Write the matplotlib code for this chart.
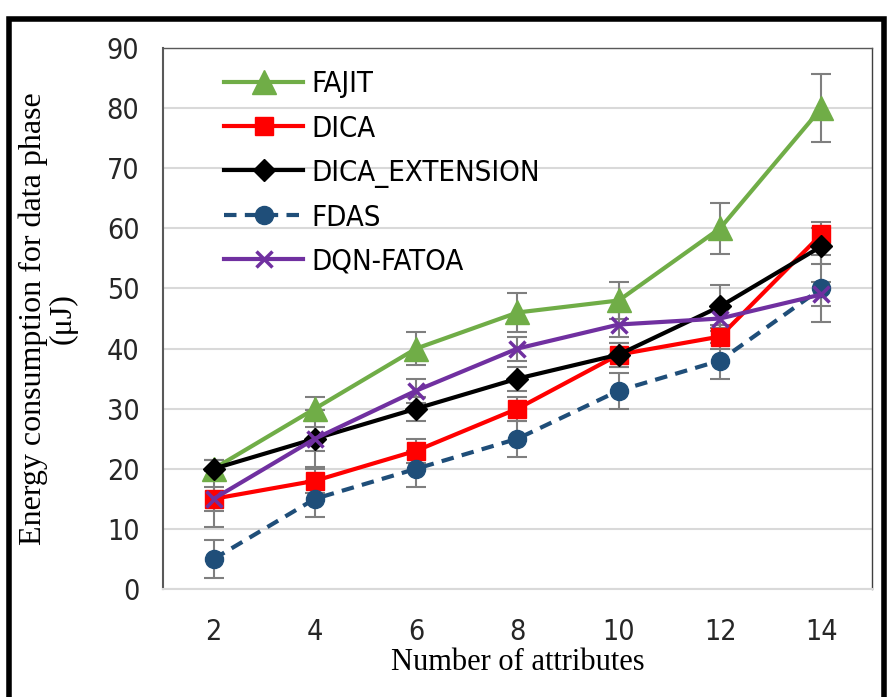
import matplotlib
matplotlib.use("Agg")
import matplotlib.pyplot as plt
from matplotlib.patches import Rectangle
from matplotlib import font_manager
import numpy as np

categories = ["2", "4", "6", "8", "10", "12", "14"]
series_names = ["FAJIT", "DICA", "DICA_EXTENSION", "FDAS", "DQN-FATOA"]
fajit = [20, 30, 40, 46, 48, 60, 80]
dica = [15, 18, 23, 30, 39, 42, 59]
dica_ext = [20, 25, 30, 35, 39, 47, 57]
fdas = [5, 15, 20, 25, 33, 38, 50]
dqn = [15, 25, 33, 40, 44, 45, 49]

fajit_err = [1.5, 2.0, 2.8, 3.3, 3.1, 4.2, 5.7]
dica_err = [4.7, 2.0, 2.0, 2.0, 2.0, 2.0, 2.0]
dica_ext_err = [1.5, 4.7, 2.0, 2.0, 2.0, 3.5, 3.0]
fdas_err = [3.1, 3.0, 3.0, 3.0, 3.0, 3.0, 5.5]
dqn_err = [2.0, 2.0, 2.0, 2.0, 2.0, 2.0, 2.0]

W, H = 889, 697
fig = plt.figure(figsize=(W / 100, H / 100), dpi=100)
ax = fig.add_axes([163 / W, 1 - 589 / H, (872 - 163) / W, (589 - 48) / H])

serif = ['Liberation Serif', 'DejaVu Serif']
tick_fp = font_manager.FontProperties(family=['DejaVu Sans'], stretch='condensed', size=20.5)
leg_fp = font_manager.FontProperties(family=['DejaVu Sans'], stretch='condensed', size=21)

x = np.arange(len(categories))
styles = [
    (fajit, fajit_err, dict(color="#70AD47", marker="^", markersize=17, linestyle="-", linewidth=3)),
    (dica, dica_err, dict(color="#FF0000", marker="s", markersize=13, linestyle="-", linewidth=3)),
    (dica_ext, dica_ext_err, dict(color="#000000", marker="D", markersize=11, linestyle="-", linewidth=3)),
    (fdas, fdas_err, dict(color="#1F4E79", marker="o", markersize=13, linestyle=(0, (3, 2)), linewidth=3)),
    (dqn, dqn_err, dict(color="#7030A0", marker="x", markersize=12, markeredgewidth=2.5, linestyle="-", linewidth=3)),
]

for (vals, errs, st), name in zip(styles, series_names):
    ax.errorbar(x, vals, yerr=errs, fmt="none", ecolor="#7F7F7F", elinewidth=1.5,
                capsize=7, capthick=1.5, zorder=2)
for (vals, errs, st), name in zip(styles, series_names):
    ax.plot(x, vals, label=name, zorder=3, **st)

ax.set_xlim(-0.5, len(categories) - 0.5)
ax.set_ylim(0, 90)
ax.set_yticks(np.arange(0, 91, 10))
ax.set_xticks(x)
ax.set_xticklabels(categories)
ax.yaxis.grid(True, color="#D9D9D9", linewidth=1.5)
ax.set_axisbelow(True)
ax.tick_params(axis="y", length=0, pad=17)
ax.tick_params(axis="x", length=0, pad=21)
for lab in ax.get_xticklabels() + ax.get_yticklabels():
    lab.set_fontproperties(tick_fp)
    lab.set_color("#262626")

ax.spines["bottom"].set_color("#D9D9D9")
ax.spines["bottom"].set_linewidth(1.5)
ax.spines["top"].set_color("#595959")
ax.spines["top"].set_linewidth(1)
ax.spines["right"].set_color("#404040")
ax.spines["right"].set_linewidth(1)
ax.spines["left"].set_color("#595959")
ax.spines["left"].set_linewidth(1.5)

ax.set_xlabel("Number of attributes", fontfamily=serif, fontsize=22)
ax.xaxis.set_label_coords(0.5, (589 - 662) / (589 - 48), transform=ax.transAxes)
ax.xaxis.label.set_verticalalignment("center")
ax.set_ylabel("Energy consumption for data phase\n(\u03bcJ)", fontfamily=serif, fontsize=23,
              linespacing=1.05)
ax.yaxis.set_label_coords((48 - 163) / (872 - 163), 0.5, transform=ax.transAxes)
ax.yaxis.label.set_verticalalignment("center")

leg = ax.legend(loc="upper left", bbox_to_anchor=(0.07, 0.98), frameon=False,
                prop=leg_fp, handlelength=2.7, markerscale=1.0,
                labelspacing=0.55, handletextpad=0.3, borderaxespad=0)

# outer frame
fig.patches.append(Rectangle((9 / W, -0.05), (884 - 9) / W, 1.05 - 19 / H, transform=fig.transFigure,
                             fill=False, edgecolor="black", linewidth=4, zorder=10))

fig.savefig("out.png", dpi=100)
